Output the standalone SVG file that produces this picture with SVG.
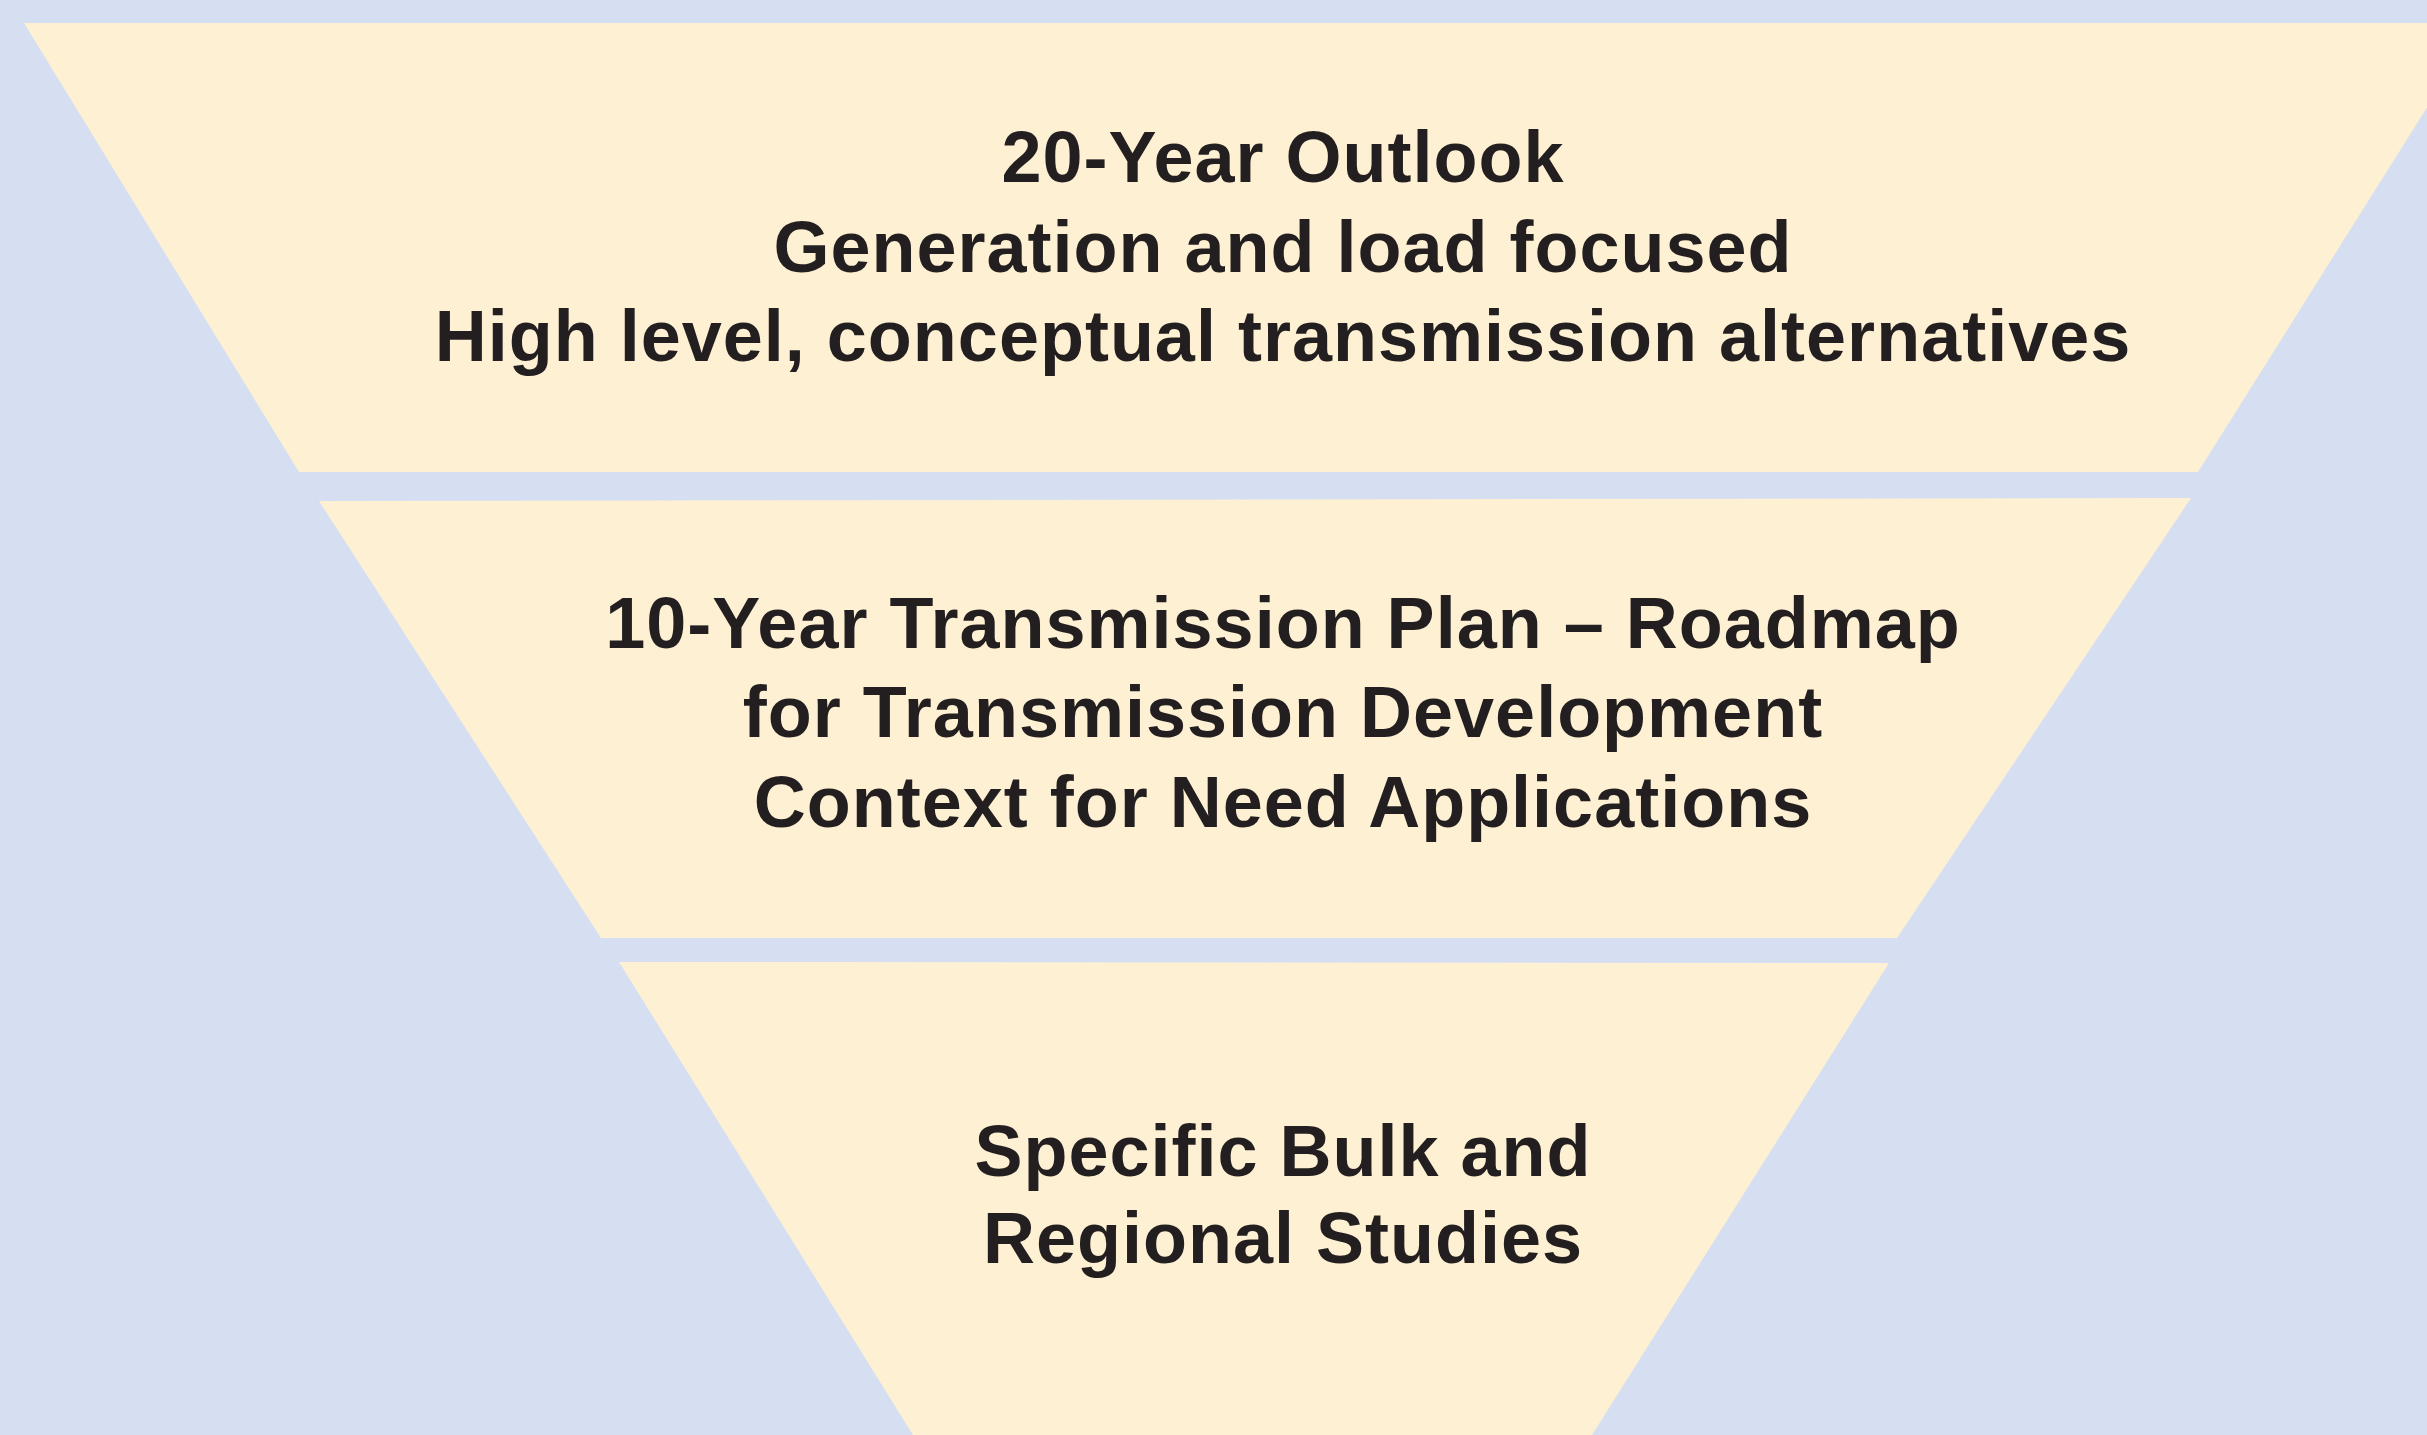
<svg xmlns="http://www.w3.org/2000/svg" width="2427" height="1435" viewBox="0 0 2427 1435">
  <style>
    .bg { fill: #D6DFF2; }
    .tier { fill: #FEF0D3; }
    .lbl { font-family: "Liberation Sans", Arial, Helvetica, sans-serif; font-weight: bold; font-size: 72px; fill: #231F20; text-anchor: middle; letter-spacing: 1px; }
  </style>
  <rect class="bg" x="0" y="0" width="2427" height="1435"/>
  <g id="tier-20-year">
    <polygon class="tier" points="24,23 2480,23 2198,472 299,472"/>
    <text class="lbl" x="1283" y="182">20-Year Outlook</text>
    <text class="lbl" x="1283" y="272">Generation and load focused</text>
    <text class="lbl" x="1283" y="361">High level, conceptual transmission alternatives</text>
  </g>
  <g id="tier-10-year">
    <polygon class="tier" points="319,501 2191,498 1897,938 601,938"/>
    <text class="lbl" x="1283" y="648">10-Year Transmission Plan – Roadmap</text>
    <text class="lbl" x="1283" y="737">for Transmission Development</text>
    <text class="lbl" x="1283" y="827">Context for Need Applications</text>
  </g>
  <g id="tier-specific">
    <polygon class="tier" points="619,962 1889,963 1592,1435 913,1435"/>
    <text class="lbl" x="1283" y="1176">Specific Bulk and</text>
    <text class="lbl" x="1283" y="1263">Regional Studies</text>
  </g>
  <g id="connectors"/>
</svg>
